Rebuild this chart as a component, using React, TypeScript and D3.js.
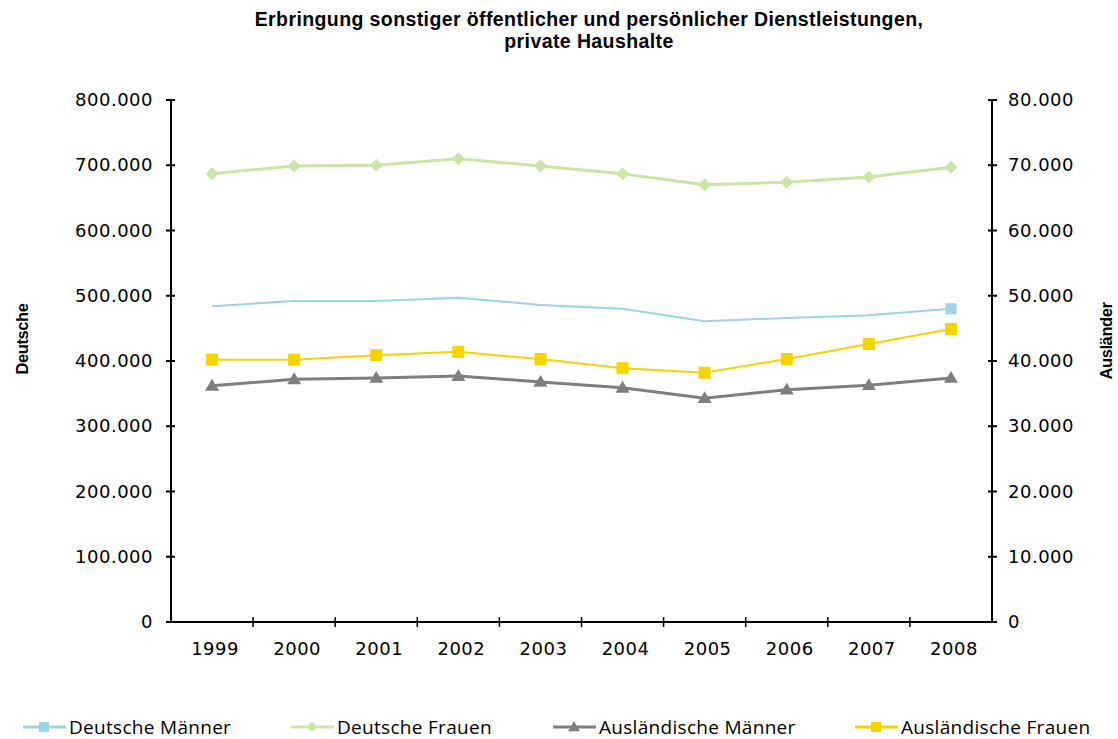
import React from "react";
import * as d3 from "d3";

const years = ["1999","2000","2001","2002","2003","2004","2005","2006","2007","2008"];
const deutscheMaenner = [484000, 492000, 492000, 497000, 486000, 480000, 461000, 466000, 470000, 480000];
const deutscheFrauen = [687000, 699000, 700000, 710000, 699000, 687000, 670000, 674000, 682000, 697000];
const auslMaenner = [36200, 37200, 37400, 37700, 36800, 35900, 34300, 35600, 36300, 37400];
const auslFrauen = [40200, 40200, 40900, 41400, 40300, 38900, 38200, 40300, 42600, 44900];
const leftTicks = [0, 100000, 200000, 300000, 400000, 500000, 600000, 700000, 800000];
const rightTicks = [0, 10000, 20000, 30000, 40000, 50000, 60000, 70000, 80000];

const fmt = (v: number) => (v === 0 ? "0" : d3.format(",")(v).replace(/,/g, "."));

export default function App() {
  const W = 1118, H = 739;
  const x0 = 171, x1 = 992, yTop = 100, yBot = 622;
  const x = d3.scaleBand().domain(years).range([x0, x1]);
  const yL = d3.scaleLinear().domain([0, 800000]).range([yBot, yTop]);
  const yR = d3.scaleLinear().domain([0, 80000]).range([yBot, yTop]);
  const cx = (y: string) => (x(y) as number) + x.bandwidth() / 2;
  const line = (vals: number[], sc: d3.ScaleLinear<number, number>) =>
    d3.line<number>().x((_, i) => cx(years[i])).y((v) => sc(v))(vals) as string;

  const tickFont = { fontFamily: "DejaVu Sans, Verdana, sans-serif", fontSize: 18, letterSpacing: 0.5 } as const;
  const condFont = "'Open Sans', 'Noto Sans', sans-serif";
  const titleFont = "'Liberation Sans Narrow', 'Liberation Sans', Arial, sans-serif";

  const blue = "#9dd3e6", green = "#c9e6a6", gray = "#7f7f7f", yellow = "#f5d400";

  const diamond = (px: number, py: number, k: string, s = 6.5) => (
    <path key={k} d={`M${px},${py - s}L${px + s},${py}L${px},${py + s}L${px - s},${py}Z`} fill={green} />
  );
  const square = (px: number, py: number, k: string, c: string, s = 6) => (
    <rect key={k} x={px - s} y={py - s} width={2 * s} height={2 * s} fill={c} />
  );
  const tri = (px: number, py: number, k: string, s = 7) => (
    <path key={k} d={`M${px},${py - s}L${px + s},${py + s * 0.7}L${px - s},${py + s * 0.7}Z`} fill={gray} />
  );

  const legend = [
    { label: "Deutsche Männer", color: blue, x: 23, m: "sq" },
    { label: "Deutsche Frauen", color: green, x: 291, m: "di" },
    { label: "Ausländische Männer", color: gray, x: 553, m: "tr" },
    { label: "Ausländische Frauen", color: yellow, x: 855, m: "sq" },
  ];

  return (
    <svg width={W} height={H} style={{ position: "absolute", left: 0, top: 0, background: "#fff" }}>
      <rect width={W} height={H} fill="#fff" />
      <text x={589} y={26} textAnchor="middle" fontFamily={titleFont} fontWeight="bold" fontSize={19.5} letterSpacing={0.4}>
        Erbringung sonstiger öffentlicher und persönlicher Dienstleistungen,
      </text>
      <text x={589} y={48} textAnchor="middle" fontFamily={titleFont} fontWeight="bold" fontSize={19.5} letterSpacing={0.4}>
        private Haushalte
      </text>

      {/* axes */}
      <line x1={x0} x2={x0} y1={yTop} y2={yBot} stroke="#000" strokeWidth={2} />
      <line x1={x1} x2={x1} y1={yTop} y2={yBot} stroke="#000" strokeWidth={2} />
      <line x1={x0} x2={x1} y1={yBot} y2={yBot} stroke="#000" strokeWidth={2} />
      {leftTicks.map((t) => (
        <g key={"l" + t}>
          <line x1={x0 - 5} x2={x0 + 4} y1={yL(t)} y2={yL(t)} stroke="#000" strokeWidth={2} />
          <text x={153} y={yL(t) + 6} textAnchor="end" {...tickFont}>{fmt(t)}</text>
        </g>
      ))}
      {rightTicks.map((t) => (
        <g key={"r" + t}>
          <line x1={x1 - 4} x2={x1 + 5} y1={yR(t)} y2={yR(t)} stroke="#000" strokeWidth={2} />
          <text x={1008} y={yR(t) + 6} textAnchor="start" {...tickFont}>{fmt(t)}</text>
        </g>
      ))}
      {years.map((yr, i) => (
        <g key={"x" + yr}>
          {i > 0 && <line x1={x(yr)} x2={x(yr)} y1={yBot - 5} y2={yBot + 5} stroke="#000" strokeWidth={1.5} />}
          <text x={cx(yr) + 3} y={yBot + 33} textAnchor="middle" {...tickFont}>{yr}</text>
        </g>
      ))}

      <text transform={`translate(28,339) rotate(-90)`} textAnchor="middle" fontFamily={titleFont} fontWeight="bold" fontSize={16.5} letterSpacing={-0.4}>Deutsche</text>
      <text transform={`translate(1112,341) rotate(-90)`} textAnchor="middle" fontFamily={titleFont} fontWeight="bold" fontSize={16.5} letterSpacing={-0.4}>Ausländer</text>

      {/* series */}
      <path d={line(deutscheFrauen, yL)} fill="none" stroke={green} strokeWidth={3} />
      {deutscheFrauen.map((v, i) => diamond(cx(years[i]), yL(v), "df" + i))}
      <path d={line(deutscheMaenner, yL)} fill="none" stroke={blue} strokeWidth={2} />
      {square(cx(years[9]), yL(deutscheMaenner[9]), "dm9", blue, 5.5)}
      <path d={line(auslMaenner, yR)} fill="none" stroke={gray} strokeWidth={3} />
      {auslMaenner.map((v, i) => tri(cx(years[i]), yR(v), "am" + i))}
      <path d={line(auslFrauen, yR)} fill="none" stroke={yellow} strokeWidth={2} />
      {auslFrauen.map((v, i) => square(cx(years[i]), yR(v), "af" + i, yellow))}

      {/* legend */}
      {legend.map((l) => (
        <g key={l.label}>
          <line x1={l.x} x2={l.x + 43} y1={727} y2={727} stroke={l.color} strokeWidth={3} />
          {l.m === "sq" && square(l.x + 21, 727, "lg" + l.label, l.color, 5)}
          {l.m === "di" && diamond(l.x + 21, 727, "lg" + l.label, 5)}
          {l.m === "tr" && tri(l.x + 21, 727, "lg" + l.label, 6)}
          <text x={l.x + 46} y={734} fontFamily={condFont} fontSize={19} letterSpacing={0.3}>{l.label}</text>
        </g>
      ))}
    </svg>
  );
}
